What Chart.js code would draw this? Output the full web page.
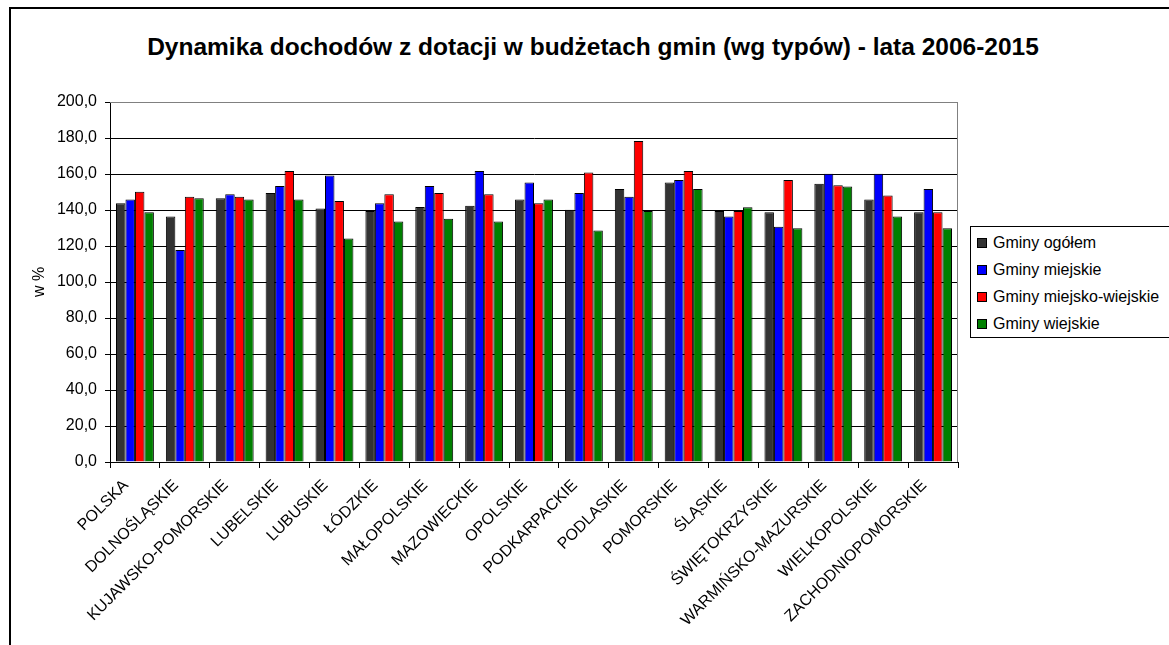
<!DOCTYPE html>
<html>
<head>
<meta charset="utf-8">
<script src="https://cdn.jsdelivr.net/npm/chart.js@4/dist/chart.umd.min.js"></script>
<style>
  html, body { margin:0; padding:0; background:#fff; width:1169px; height:645px; overflow:hidden; position:relative; font-family:"Liberation Sans", Arial, sans-serif; }
  #frame { position:absolute; left:9px; top:7px; width:1200px; height:700px; border-left:2px solid #000; border-top:2px solid #000; }
  #title { position:absolute; left:0; width:1186px; top:33px; text-align:center; font-weight:bold; font-size:24.5px; color:#000; }
  #c { position:absolute; left:0; top:0; }
  #legend { position:absolute; left:970px; top:226px; width:220px; height:110px; border:1px solid #000; background:#fff; font-size:16px; }
  .li { position:absolute; left:6px; height:20px; line-height:20px; white-space:nowrap; }
  .sw { display:inline-block; width:8px; height:8px; border:1px solid #000; margin-right:6px; vertical-align:middle; position:relative; top:-1px; }
</style>
</head>
<body>
<div id="frame"></div>
<div id="title">Dynamika dochodów z dotacji w budżetach gmin (wg typów) - lata 2006-2015</div>
<canvas id="c" width="1169" height="645"></canvas>
<div id="legend"></div>
<script>
const categories = ["POLSKA","DOLNOŚLĄSKIE","KUJAWSKO-POMORSKIE","LUBELSKIE","LUBUSKIE","ŁÓDZKIE","MAŁOPOLSKIE","MAZOWIECKIE","OPOLSKIE","PODKARPACKIE","PODLASKIE","POMORSKIE","ŚLĄSKIE","ŚWIĘTOKRZYSKIE","WARMIŃSKO-MAZURSKIE","WIELKOPOLSKIE","ZACHODNIOPOMORSKIE"];
const seriesNames = ["Gminy ogółem","Gminy miejskie","Gminy miejsko-wiejskie","Gminy wiejskie"];
const gminyOgolem = [143.7,136.4,146.5,149.5,140.9,139.4,141.7,142.4,145.8,140.2,151.6,155.3,139.4,138.7,154.6,145.8,138.7];
const gminyMiejskie = [145.8,117.8,148.8,153.3,159.1,143.7,153.3,161.7,155.3,149.5,147.3,156.6,136.4,130.7,160.2,160.2,151.6];
const gminyMiejskoWiejskie = [150.1,147.3,147.3,161.7,145.0,148.8,149.5,148.8,143.7,160.9,178.3,161.7,139.4,156.6,153.8,148.0,138.7];
const gminyWiejskie = [138.7,146.5,145.8,145.8,124.1,133.6,135.1,133.6,145.8,128.6,139.4,151.6,141.5,129.9,153.1,136.4,129.9];
const colors = ["#333333","#0000FF","#FF0000","#008000"];
const yTicks = [0,20,40,60,80,100,120,140,160,180,200];

const allSeries = [gminyOgolem, gminyMiejskie, gminyMiejskoWiejskie, gminyWiejskie];

const leg = document.getElementById('legend');
seriesNames.forEach((n,i)=>{
  const d = document.createElement('div');
  d.className='li';
  d.style.top = (6 + i*27) + 'px';
  d.innerHTML = '<span class="sw" style="background:'+colors[i]+'"></span>' + n;
  leg.appendChild(d);
});

const plotBorder = {
  id:'plotBorder',
  beforeDatasetsDraw(chart){
    const a = chart.chartArea, ctx = chart.ctx;
    ctx.save();
    ctx.strokeStyle = '#808080';
    ctx.lineWidth = 1;
    ctx.beginPath();
    ctx.moveTo(a.left, a.top+0.5);
    ctx.lineTo(a.right-0.5, a.top+0.5);
    ctx.lineTo(a.right-0.5, a.bottom);
    ctx.stroke();
    ctx.restore();
  }
};

const FONT = '"Liberation Sans", Arial, sans-serif';

new Chart(document.getElementById('c'), {
  type:'bar',
  data:{
    labels: categories,
    datasets: allSeries.map((s,i)=>({
      label: seriesNames[i],
      data: s,
      backgroundColor: colors[i],
      borderColor:'#000',
      borderWidth:1,
      categoryPercentage:0.76,
      barPercentage:1.0
    }))
  },
  options:{
    responsive:false,
    animation:false,
    devicePixelRatio:1,
    layout:{ padding:{ left:30, top:102, right:211, bottom:0 } },
    plugins:{ legend:{display:false}, tooltip:{enabled:false}, title:{display:false} },
    scales:{
      x:{
        afterFit(scale){ scale.height = 183; },
        grid:{ offset:true, drawOnChartArea:false, tickLength:6, tickColor:'#000', color:'#000' },
        border:{ display:true, color:'#000', width:1 },
        ticks:{ autoSkip:false, minRotation:45, maxRotation:45, color:'#000', font:{ family:FONT, size:16 }, padding:8, labelOffset:-9 }
      },
      y:{
        min:0, max:200,
        afterFit(scale){ scale.width = 80; },
        afterBuildTicks(scale){ scale.ticks = yTicks.map(v=>({value:v})); },
        grid:{ color:(ctx)=> (ctx.tick && ctx.tick.value===200) ? '#808080' : '#000', tickLength:5, tickColor:'#000', lineWidth:1 },
        border:{ display:true, color:'#000', width:1 },
        ticks:{ color:'#000', padding:8, font:{ family:FONT, size:16 }, callback:(v)=> Number(v).toFixed(1).replace('.', ',') },
        title:{ display:true, text:'w %', color:'#000', font:{ family:FONT, size:16 }, padding:{top:0,bottom:0} }
      }
    }
  },
  plugins:[plotBorder]
});
</script>
</body>
</html>
